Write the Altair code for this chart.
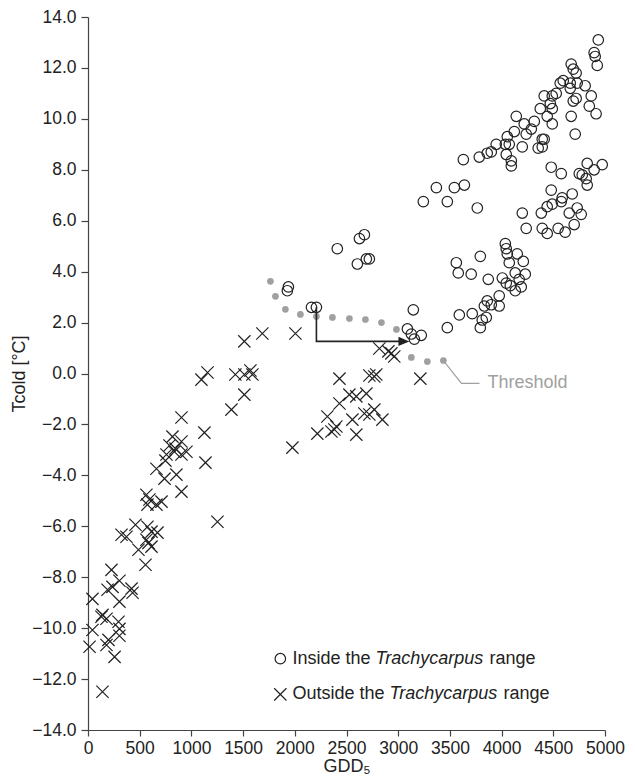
import altair as alt
import pandas as pd

# ---- data ----
inside_x = [4935, 4895, 4905, 4925, 4673, 4693, 4721, 4596, 4567, 4664, 4731, 4808, 4528, 4664,
            4721, 4693, 4867, 4848, 4914, 4412, 4490, 4471, 4374, 4490, 4441, 4490, 4673, 4712,
            4142, 4316, 4219, 4287, 4238, 4123, 4055, 4074, 3948, 4036, 3900, 3861, 3784, 3630,
            4045, 4094, 4094, 4200, 4354, 4393, 4412, 4393,
            3369, 3543, 3640, 3243, 3475, 3765, 4480, 4577, 4751, 4780, 4828, 4895, 4973, 4818,
            4828, 4480, 4586, 4683, 4577, 4490, 4441, 4384, 4200, 4654, 4731, 4770, 4702, 4238,
            4393, 4441, 4547, 4615,
            4036, 4045, 4055, 4151, 4210, 4074, 4132, 4229, 4007, 4045, 4084, 4170, 4190, 4132,
            3794, 3562, 3581, 3706, 3871, 3977, 3861, 3900, 3833, 3977, 3852, 3813, 3794, 3716,
            3591, 3475, 3146, 3089, 3127, 3223, 3156,
            2411, 2625, 2673, 2605, 2692, 2721, 1938, 1928, 2161, 2209]
inside_y = [13.1, 12.6, 12.45, 12.1, 12.15, 11.95, 11.8, 11.5, 11.4, 11.4, 11.4, 11.3, 11.0, 11.2,
            10.8, 10.7, 10.9, 10.5, 10.2, 10.9, 10.9, 10.6, 10.4, 10.4, 10.1, 9.8, 10.1, 9.4,
            10.1, 9.9, 9.8, 9.6, 9.4, 9.5, 9.3, 9.0, 9.0, 9.0, 8.7, 8.65, 8.5, 8.4,
            8.6, 8.35, 8.15, 8.9, 8.85, 9.2, 9.2, 8.9,
            7.3, 7.3, 7.4, 6.75, 6.75, 6.5, 8.1, 7.85, 7.85, 7.8, 8.25, 8.0, 8.2, 7.65,
            7.4, 7.2, 6.9, 7.05, 6.75, 6.65, 6.55, 6.3, 6.3, 6.3, 6.5, 6.25, 5.85, 5.7,
            5.7, 5.5, 5.7, 5.55,
            5.1, 4.9, 4.7, 4.7, 4.4, 4.35, 3.95, 3.9, 3.75, 3.55, 3.45, 3.7, 3.4, 3.25,
            4.6, 4.35, 3.95, 3.9, 3.7, 3.05, 2.85, 2.7, 2.65, 2.65, 2.2, 2.1, 1.8, 2.35,
            2.3, 1.8, 2.5, 1.75, 1.55, 1.5, 1.35,
            4.9, 5.3, 5.45, 4.3, 4.5, 4.5, 3.4, 3.25, 2.6, 2.6]

outside_x = [1097, 1156, 1425, 1512, 1571, 1590, 1512, 1387, 1126, 1136, 904, 817, 788, 846,
             904, 836, 952, 904, 759, 662, 749, 740, 855, 904, 565, 594, 575, 711, 662, 1252,
             459, 575, 614, 672, 324, 372, 565, 585, 488, 556, 614, 227, 304, 237, 189, 421,
             431, 43, 304, 140, 179, 130, 295, 304, 43, 304, 198, 179, 15, 257, 140,
             1512, 1686, 2006, 1977, 2432, 2721, 2769, 2788, 3214, 2528, 2595, 2692, 2432, 2315,
             2673, 2721, 2769, 2847, 2557, 2218, 2354, 2402, 2595, 2383, 2818, 2905, 2962, 2934]
outside_y = [-0.24, 0.04, -0.04, -0.04, 0.12, -0.04, -0.83, -1.42, -2.32, -3.5, -1.73, -2.48,
             -2.83, -2.95, -2.67, -3.07, -3.07, -3.18, -3.18, -3.74, -3.42, -4.13, -3.97, -4.64,
             -4.76, -4.95, -5.15, -5.03, -5.15, -5.82, -5.94, -6.02, -6.21, -6.25, -6.33, -6.41,
             -6.53, -6.65, -6.92, -7.51, -6.8, -7.71, -8.14, -8.38, -8.49, -8.45, -8.61, -8.85,
             -8.96, -9.48, -9.63, -9.55, -9.75, -10.03, -10.07, -10.3, -10.46, -10.66, -10.73,
             -11.13, -12.5,
             1.26, 1.57, 1.57, -2.91, -0.2, -0.08, -0.12, -0.04, -0.2, -0.83, -0.9, -0.79, -1.18,
             -1.69, -1.57, -1.61, -1.42, -1.81, -1.81, -2.36, -2.28, -2.08, -2.4, -2.2, 0.98,
             0.87, 0.67, 0.79]

threshold_x = [1764, 1813, 1909, 2054, 2209, 2364, 2528, 2683, 2838, 2983, 3127, 3282, 3437]
threshold_y = [3.62, 3.03, 2.52, 2.32, 2.24, 2.20, 2.16, 2.12, 2.0, 1.73, 0.63, 0.47, 0.51]

arrow_x = [2209, 2209, 3040]
arrow_y = [2.6, 1.26, 1.26]
arrow_head = (3055, 1.26)

leader_x = [3437, 3612, 3786]
leader_y = [0.51, -0.39, -0.39]
threshold_label = (3864, -0.39, "Threshold")

legend_rows = [("Inside the", "Trachycarpus", "range", -11.2, "circle"),
               ("Outside the", "Trachycarpus", "range", -12.6, "cross")]
legend_sym_x = 1860
legend_text_x = 1977

x_ticks = list(range(0, 5001, 500))
y_ticks = list(range(-14, 15, 2))

FONT = "Liberation Sans"
INK = "#222222"
GREY = "#a0a0a0"
CROSS = "M-1,-1L1,1M-1,1L1,-1"

xenc = alt.X("x:Q", scale=alt.Scale(domain=[0, 5000], nice=False, zero=False),
             axis=alt.Axis(values=x_ticks, format="d", title="GDD₅", grid=False, tickSize=6,
                           labelPadding=3, titlePadding=1, labelFlush=False,
                           labelOverlap=False))
yenc = alt.Y("y:Q", scale=alt.Scale(domain=[-14, 14], nice=False, zero=False),
             axis=alt.Axis(values=y_ticks, format=".1f", title="Tcold [°C]", grid=False,
                           tickSize=7, labelPadding=5, titlePadding=3, labelFlush=False,
                           labelOverlap=False))

df_in = pd.DataFrame({"x": inside_x, "y": inside_y})
df_out = pd.DataFrame({"x": outside_x, "y": outside_y})
df_thr = pd.DataFrame({"x": threshold_x, "y": threshold_y})
df_arrow = pd.DataFrame({"x": arrow_x, "y": arrow_y, "o": range(len(arrow_x))})
df_leader = pd.DataFrame({"x": leader_x, "y": leader_y, "o": range(len(leader_x))})

thr = alt.Chart(df_thr).mark_point(shape="circle", filled=True, size=45, color=GREY,
                                   opacity=1).encode(x=xenc, y=yenc)
circles = alt.Chart(df_in).mark_point(shape="circle", filled=False, size=110, color=INK,
                                      strokeWidth=1.2, opacity=1).encode(x=xenc, y=yenc)
crosses = alt.Chart(df_out).mark_point(shape=CROSS, filled=False, size=150, color=INK,
                                       strokeWidth=1.2, opacity=1).encode(x=xenc, y=yenc)
arrow = alt.Chart(df_arrow).mark_line(color=INK, strokeWidth=1.6).encode(
    x=xenc, y=yenc, order="o:Q")
head = alt.Chart(pd.DataFrame({"x": [arrow_head[0]], "y": [arrow_head[1]]})).mark_point(
    shape="M-1,-0.85L1,0L-1,0.85Z", filled=True, size=120, color=INK, opacity=1).encode(
    x=xenc, y=yenc)
leader = alt.Chart(df_leader).mark_line(color=GREY, strokeWidth=1.2).encode(
    x=xenc, y=yenc, order="o:Q")
thr_text = alt.Chart(pd.DataFrame({"x": [threshold_label[0]], "y": [threshold_label[1]],
                                   "t": [threshold_label[2]]})).mark_text(
    align="left", baseline="middle", font=FONT, fontSize=18, color=GREY).encode(
    x=xenc, y=yenc, text="t:N")

layers = [thr, crosses, circles, arrow, head, leader, thr_text]

FS = 18
SPACE = 0.278
# approximate advance widths of Liberation Sans (Arial metrics), in em
W = {"Inside the": 4.336, "Outside the": 5.114, "Trachycarpus": 6.057}
for a, b, c, yv, sym in legend_rows:
    base = alt.Chart(pd.DataFrame({"x": [legend_text_x], "y": [yv]}))
    if sym == "circle":
        s = alt.Chart(pd.DataFrame({"x": [legend_sym_x], "y": [yv]})).mark_point(
            shape="circle", filled=False, size=110, color=INK, strokeWidth=1.2, opacity=1)
    else:
        s = alt.Chart(pd.DataFrame({"x": [legend_sym_x], "y": [yv]})).mark_point(
            shape=CROSS, filled=False, size=150, color=INK, strokeWidth=1.2, opacity=1)
    layers.append(s.encode(x=xenc, y=yenc))
    d1 = (W[a] + SPACE) * FS
    d2 = d1 + (W[b] + SPACE) * FS
    layers.append(base.mark_text(align="left", baseline="middle", font=FONT, fontSize=FS,
                                 color=INK, text=a).encode(x=xenc, y=yenc))
    layers.append(base.mark_text(align="left", baseline="middle", font=FONT, fontSize=FS,
                                 fontStyle="italic", color=INK, text=b, dx=d1).encode(
        x=xenc, y=yenc))
    layers.append(base.mark_text(align="left", baseline="middle", font=FONT, fontSize=FS,
                                 color=INK, text=c, dx=d2).encode(x=xenc, y=yenc))

chart = alt.layer(*layers).properties(
    width=517, height=713,
    autosize=alt.AutoSizeParams(type="none"),
    padding={"left": 80, "top": 9, "right": 22, "bottom": 52},
).configure_view(stroke=None).configure_axis(
    labelFont=FONT, titleFont=FONT, labelFontSize=17.5, titleFontSize=18,
    labelColor=INK, titleColor=INK, titleFontWeight="normal",
    domainColor="#444444", tickColor="#444444", domainWidth=1.2, tickWidth=1.2,
)

chart.save("out.html", embed_options={"renderer": "svg", "actions": False})
